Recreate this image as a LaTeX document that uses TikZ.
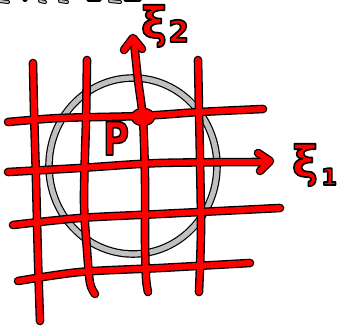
\documentclass[tikz,border=0pt]{standalone}
\usepackage{fontspec}
\newfontfamily\hand{DejaVu Sans}
\definecolor{pen}{RGB}{255,0,0}
\definecolor{ring}{RGB}{192,192,192}
\newcommand\outlined[1]{\special{pdf:literal direct 2 Tr 1.6 w 1 j 0 0 0 RG}#1\special{pdf:literal direct 0 Tr}}
\tikzset{
  outl/.style={draw=black,line width=8.6pt,line cap=round,line join=round},
  redl/.style={draw=pen,line width=6pt,line cap=round,line join=round},
  ringout/.style={draw=black,line width=7.6pt},
  ringin/.style={draw=ring,line width=5.2pt},
  lab/.style={inner sep=0pt,text=pen},
}
\newcommand\gridpaths[1]{%
  \path[#1] plot[smooth] coordinates {(33,63) (34,110) (36,180) (38,260) (40,321)};
  \path[#1] plot[smooth] coordinates {(87,60) (86,120) (84,200) (87,250) (90,283) (95,294)};
  \path[#1] plot[smooth] coordinates {(148,292) (146,278) (145,240) (145,180) (143,120) (138,80) (134,42)};
  \path[#1] (124,50) -- (133,38) -- (142,49);
  \path[#1] plot[smooth] coordinates {(198,60) (199,110) (200,160) (201,230) (199,292)};
  \path[#1] plot[smooth] coordinates {(8,122) (60,118) (140,116) (200,112) (263,109)};
  \path[#1] plot[smooth] coordinates {(8,172) (80,168) (160,163) (268,162)};
  \path[#1] (258,153) -- (270,161) -- (260,171);
  \path[#1] plot[smooth] coordinates {(13,225) (80,218) (160,214) (220,211) (280,208)};
  \path[#1] plot[smooth] coordinates {(18,281) (80,272) (160,268) (250,263)};
  \path[#1] (143,117) ellipse[x radius=8,y radius=5];
}
\begin{document}
\begin{tikzpicture}[x=1pt,y=-1pt]
\useasboundingbox (0,0) rectangle (346,326);
% cut-off remnants of text at the top edge
\foreach \a/\b in {0/8,40/45,60/67,110/120}{
  \path[draw=black,line width=4pt,line cap=round] (\a,1) -- (\b,2);
  \path[draw=ring,line width=2pt,line cap=round] (\a,1) -- (\b,2);}
\foreach \a/\b in {24/26,88/100,125/140}{
  \path[draw=black,line width=3pt,line cap=round] (\a,1) -- (\b,1);}
% gray circle
\path[ringout] (133,166) ellipse[x radius=84,y radius=88];
\path[ringin] (133,166) ellipse[x radius=84,y radius=88];
% red grid
\gridpaths{outl}
\gridpaths{redl}
% labels
\node[lab,anchor=base] (p) at (116,155) {\scalebox{0.78}[1]{\outlined{\fontsize{46}{46}\selectfont\hand\bfseries P}}};
\node[lab] (xi2) at (154,26) {\outlined{\fontsize{44}{44}\selectfont\hand\bfseries ξ}};
\node[lab,anchor=base west] (two) at (168,42) {\outlined{\fontsize{30}{30}\selectfont\hand\bfseries 2}};
\node[lab] (xi1) at (305,165) {\outlined{\fontsize{44}{44}\selectfont\hand\bfseries ξ}};
\node[lab,anchor=base west] (one) at (321,185) {\outlined{\fontsize{23}{23}\selectfont\hand\bfseries 1}};
\end{tikzpicture}
\end{document}
